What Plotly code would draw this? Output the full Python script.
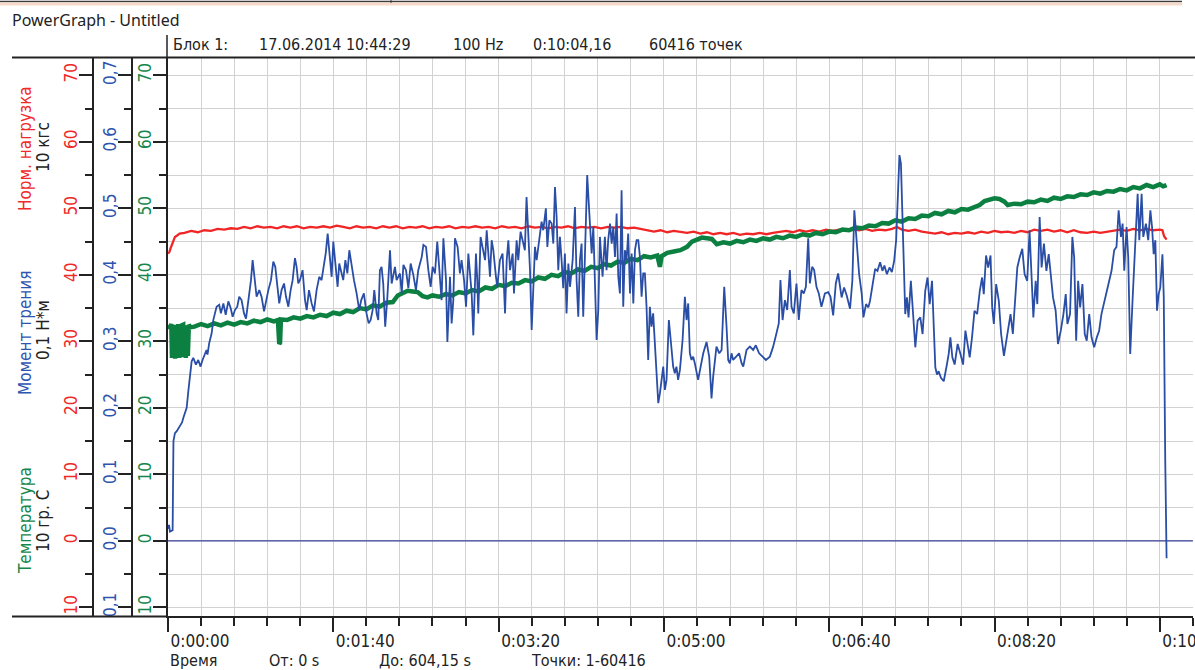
import plotly.graph_objects as go

W, H = 1195, 670
FONT = "DejaVu Sans Condensed, DejaVu Sans, sans-serif"
TITLE_FONT = "Noto Sans, Open Sans, sans-serif"

RED_LINE = "#f02525"
BLUE_LINE = "#2a4ea5"
GREEN_LINE = "#0c8040"
ZERO_LINE = "#3a3f9a"
RED_TXT = "#ee2a2a"
BLUE_TXT = "#2d55b0"
GREEN_TXT = "#16874a"
INK = "#222222"
GRID = "#d2d2d2"

# ---------------- data ----------------
# x axis: time in seconds
X_TICKS = [0, 100, 200, 300, 400, 500, 600]
X_TICK_TEXT = ["0:00:00", "0:01:40", "0:03:20", "0:05:00", "0:06:40", "0:08:20", "0:10:00"]

# y axes tick labels
Y_TICKS = [-10, 0, 10, 20, 30, 40, 50, 60, 70]
RED_TICK_TEXT = ["10", "0", "10", "20", "30", "40", "50", "60", "70"]
GREEN_TICK_TEXT = ["10", "0", "10", "20", "30", "40", "50", "60", "70"]
BLUE_TICKS = [-0.1, 0.0, 0.1, 0.2, 0.3, 0.4, 0.5, 0.6, 0.7]
BLUE_TICK_TEXT = ["0,1", "0,0", "0,1", "0,2", "0,3", "0,4", "0,5", "0,6", "0,7"]

# Норм. нагрузка (10 кгс): (time s, value)
RED_POINTS = [
    (0.0, 43.2), (0.8, 43.4), (1.6, 44.0), (2.4, 44.6), (3.2, 45.2), (4.2, 45.7), (5.5, 45.9), (7, 46.2),
    (10, 46.3), (14, 46.6), (18, 46.4), (22, 46.7), (26, 46.6), (30, 46.9), (34, 46.8), (38, 47.0),
    (42, 46.9), (46, 47.2), (50, 47.0), (54, 47.3), (58, 47.1), (62, 47.2), (66, 47.0), (70, 47.3),
    (74, 47.1), (78, 47.3), (82, 47.0), (86, 47.2), (90, 47.1), (94, 47.3), (98, 47.1), (102, 47.4),
    (106, 47.2), (110, 47.0), (114, 47.3), (118, 47.1), (122, 47.2), (126, 47.0), (130, 47.3), (134, 47.1),
    (138, 47.3), (142, 47.0), (146, 47.2), (150, 47.1), (154, 47.3), (158, 47.0), (162, 47.2), (166, 47.1),
    (170, 47.3), (174, 47.0), (178, 47.2), (182, 47.1), (186, 47.3), (190, 47.1), (194, 47.2), (198, 47.0),
    (202, 47.3), (206, 47.1), (210, 47.2), (214, 47.0), (218, 47.3), (222, 47.1), (226, 47.2), (230, 47.0),
    (234, 47.2), (238, 47.1), (242, 47.3), (246, 47.0), (250, 47.2), (254, 47.1), (258, 47.2), (262, 47.0),
    (266, 47.2), (270, 47.1), (274, 47.2), (278, 47.0), (282, 47.1), (286, 46.9), (290, 46.8), (294, 46.5),
    (298, 46.7), (302, 46.4), (306, 46.6), (310, 46.5), (314, 46.3), (318, 46.5), (322, 46.2), (326, 46.4),
    (330, 46.1), (334, 46.3), (338, 46.1), (342, 46.3), (346, 46.0), (350, 46.2), (354, 46.1), (358, 46.3),
    (362, 46.1), (366, 46.3), (370, 46.4), (374, 46.6), (378, 46.4), (382, 46.7), (386, 46.5), (390, 46.7),
    (394, 46.5), (398, 46.8), (402, 46.6), (406, 46.8), (410, 46.6), (414, 46.9), (418, 46.7), (422, 46.9),
    (426, 46.6), (430, 46.8), (434, 46.7), (438, 46.9), (441, 47.2), (444, 46.8), (448, 46.6), (452, 46.8),
    (456, 46.5), (460, 46.4), (464, 46.2), (468, 46.4), (472, 46.1), (476, 46.3), (480, 46.2), (484, 46.4),
    (488, 46.2), (492, 46.5), (496, 46.3), (500, 46.6), (504, 46.4), (508, 46.5), (512, 46.3), (516, 46.6),
    (520, 46.4), (524, 46.8), (528, 46.6), (532, 46.8), (536, 46.5), (540, 46.7), (544, 46.4), (548, 46.7),
    (552, 46.4), (556, 46.3), (560, 46.5), (564, 46.3), (568, 46.5), (572, 46.6), (576, 46.8), (580, 46.6),
    (584, 46.9), (588, 46.7), (592, 46.9), (596, 46.7), (600, 46.8), (601.6, 46.7), (602.6, 45.8), (604.1, 45.3),
]

# Температура (10 гр. С): (time s, value)
GREEN_POINTS = [
    (0.0, 32.4), (1.0, 32.0), (2.0, 32.6), (2.4, 27.5), (2.8, 32.4), (3.3, 27.6), (3.8, 32.5), (4.3, 27.4),
    (4.8, 32.2), (5.6, 27.8), (6.2, 32.6), (7.0, 27.5), (7.5, 32.3), (9.2, 32.5), (9.6, 27.6), (10.2, 32.4),
    (10.8, 27.5), (11.4, 32.3), (12.0, 27.8), (12.6, 32.5), (13.5, 32.1), (16, 32.2), (20, 32.6), (24, 32.3),
    (28, 32.7), (32, 32.4), (36, 32.8), (40, 32.5), (44, 32.9), (48, 32.7), (52, 33.1), (56, 32.9),
    (60, 33.3), (64, 33.0), (66.5, 33.2), (67.3, 29.6), (67.8, 29.8), (68.3, 33.3), (72, 33.2), (76, 33.6),
    (80, 33.4), (84, 33.8), (88, 33.6), (92, 34.0), (96, 33.8), (100, 34.3), (104, 34.1), (108, 34.6),
    (112, 34.4), (116, 35.0), (120, 34.8), (124, 35.4), (128, 35.2), (132, 35.8), (136, 35.9), (139, 36.9),
    (142, 37.3), (145, 37.6), (148, 37.5), (151, 37.4), (154, 36.8), (157, 36.6), (160, 36.9), (164, 36.7),
    (168, 37.1), (172, 36.9), (176, 37.4), (180, 37.2), (184, 37.7), (188, 37.5), (192, 38.1), (196, 37.9),
    (200, 38.5), (204, 38.3), (208, 38.8), (212, 38.7), (216, 39.2), (220, 39.0), (224, 39.6), (228, 39.4),
    (232, 40.0), (236, 39.8), (240, 40.4), (244, 40.2), (248, 40.8), (252, 40.6), (256, 41.2), (260, 41.0),
    (264, 41.6), (268, 41.4), (272, 42.0), (276, 41.8), (280, 42.4), (284, 42.2), (288, 42.8), (292, 42.6),
    (296, 42.9), (297.6, 41.2), (298.6, 42.8), (302, 43.3), (306, 43.5), (310, 43.7), (314, 44.2), (317, 45.0),
    (320, 45.3), (323, 45.6), (326, 45.5), (329, 45.4), (332, 44.6), (336, 44.9), (340, 44.7), (344, 45.1),
    (348, 44.9), (352, 45.3), (356, 45.1), (360, 45.5), (364, 45.3), (368, 45.7), (372, 45.5), (376, 45.9),
    (380, 45.7), (384, 46.1), (388, 45.9), (392, 46.3), (396, 46.1), (400, 46.5), (404, 46.4), (408, 46.8),
    (412, 46.7), (416, 47.1), (420, 47.0), (424, 47.4), (428, 47.3), (432, 47.8), (436, 47.7), (440, 48.2),
    (444, 48.0), (448, 48.5), (452, 48.4), (456, 48.9), (460, 48.8), (464, 49.3), (468, 49.1), (472, 49.6),
    (476, 49.4), (480, 49.9), (484, 49.8), (488, 50.2), (491, 50.5), (494, 51.1), (497, 51.3), (500, 51.5),
    (503, 51.4), (506, 51.0), (508, 50.5), (512, 50.7), (516, 50.6), (520, 51.0), (524, 50.9), (528, 51.3),
    (532, 51.1), (536, 51.6), (540, 51.4), (544, 51.8), (548, 51.7), (552, 52.1), (556, 52.0), (560, 52.4),
    (564, 52.2), (568, 52.6), (572, 52.5), (576, 52.9), (580, 52.7), (584, 53.2), (588, 53.0), (592, 53.5),
    (596, 53.2), (600, 53.6), (602, 53.3), (604.1, 53.5),
]

# Момент трения (0,1 Н*м): (time s, value)
BLUE_POINTS = [
    (0.0, 0.018), (0.6, 0.024), (1.2, 0.014), (2.2, 0.016), (2.8, 0.016), (3.3, 0.150), (4.2, 0.162), (5.3, 0.165),
    (6.5, 0.170), (7.5, 0.174), (8.5, 0.178), (9.3, 0.185), (10.3, 0.192), (11.3, 0.200), (12.3, 0.225), (13.3, 0.252),
    (14.3, 0.270), (15.3, 0.275), (16.9, 0.265), (18.3, 0.272), (19.7, 0.262), (20.9, 0.272), (22.3, 0.282), (23.3, 0.287),
    (23.9, 0.280), (24.9, 0.297), (26.4, 0.312), (27.4, 0.332), (28.4, 0.342),
    (29.4, 0.352), (31.0, 0.355), (32.0, 0.342), (33.5, 0.357), (34.9, 0.340), (36.5, 0.360), (37.9, 0.350), (39.1, 0.337),
    (40.5, 0.347), (41.9, 0.352), (43.1, 0.367), (44.5, 0.362), (46.0, 0.342), (47.2, 0.334), (48.2, 0.352), (49.2, 0.370),
    (50.2, 0.392), (51.2, 0.422), (52.2, 0.397), (53.6, 0.367), (55.2, 0.377), (56.6, 0.367), (58.1, 0.345), (59.3, 0.362),
    (60.7, 0.377), (62.3, 0.392), (63.7, 0.420), (64.9, 0.412), (66.1, 0.382), (67.3, 0.357), (68.7, 0.377), (70.2, 0.387),
    (71.4, 0.367), (72.8, 0.352), (74.2, 0.377), (75.4, 0.392), (76.8, 0.425), (77.8, 0.412), (78.8, 0.387), (79.8, 0.392),
    (81.4, 0.407), (82.9, 0.362), (83.9, 0.347), (85.3, 0.377), (86.9, 0.357), (88.3, 0.345), (89.9, 0.377), (91.5, 0.397),
    (92.9, 0.392), (93.9, 0.407), (95.4, 0.432), (96.6, 0.462), (98.0, 0.417), (99.0, 0.397), (100.0, 0.450), (101.6, 0.402),
    (102.6, 0.382), (103.6, 0.417), (105.0, 0.402), (106.0, 0.392), (107.3, 0.422), (108.5, 0.402), (109.7, 0.437), (111.1, 0.412),
    (112.5, 0.392), (114.1, 0.372), (115.7, 0.347), (116.9, 0.362), (118.5, 0.372), (120.1, 0.342), (121.4, 0.327), (122.6, 0.332),
    (123.8, 0.347), (124.8, 0.377), (126.2, 0.342), (127.2, 0.332), (128.2, 0.407), (129.2, 0.412), (130.2, 0.387), (131.4, 0.322),
    (132.6, 0.362), (134.3, 0.437),
    (135.3, 0.387), (137.3, 0.412), (138.3, 0.392), (140.3, 0.402), (141.4, 0.372), (142.4, 0.415), (144.0, 0.407), (145.4, 0.380),
    (146.8, 0.417), (148.4, 0.400), (150.0, 0.377), (151.4, 0.407), (153.5, 0.427), (154.5, 0.445), (156.1, 0.442), (157.5, 0.407),
    (158.9, 0.382), (160.1, 0.412), (161.5, 0.402), (162.9, 0.450), (164.1, 0.407), (165.5, 0.362), (166.6, 0.455), (168.2, 0.392),
    (169.0, 0.299), (170.6, 0.397), (171.6, 0.327), (172.6, 0.362), (173.6, 0.455), (175.2, 0.442), (176.6, 0.402), (177.6, 0.422),
    (179.1, 0.392), (180.3, 0.352), (181.7, 0.432), (182.7, 0.407), (183.7, 0.372), (184.7, 0.309), (186.3, 0.432), (187.1, 0.392),
    (187.7, 0.342), (189.1, 0.457), (190.3, 0.442), (191.8, 0.422), (192.8, 0.467), (193.8, 0.427), (194.8, 0.397), (195.8, 0.452),
    (196.8, 0.437), (198.4, 0.397), (199.2, 0.382), (200.8, 0.422), (202.4, 0.432), (203.9, 0.342), (204.9, 0.422), (205.9, 0.452),
    (206.9, 0.407), (208.5, 0.432), (209.3, 0.372), (210.9, 0.452), (211.9, 0.422), (213.3, 0.465), (214.5, 0.452), (215.9, 0.437),
    (216.9, 0.517), (217.9, 0.472), (219.0, 0.407), (220.0, 0.317), (221.0, 0.387), (222.0, 0.442), (223.0, 0.422), (224.6, 0.455),
    (226.0, 0.480), (227.0, 0.467), (228.6, 0.500), (229.5, 0.442), (230.7, 0.482), (232.1, 0.477), (233.1, 0.447), (234.1, 0.532),
    (235.1, 0.487), (236.1, 0.407), (237.1, 0.457), (238.1, 0.422), (239.1, 0.380), (240.1, 0.432), (241.1, 0.342), (242.2, 0.417),
    (243.2, 0.382), (244.8, 0.422), (246.2, 0.502), (247.2, 0.392), (248.2, 0.337), (249.2, 0.422), (250.2, 0.447), (251.2, 0.337),
    (252.2, 0.417), (253.6, 0.550), (254.9, 0.492), (256.3, 0.432), (257.3, 0.472), (258.3, 0.382), (259.3, 0.302), (260.3, 0.347),
    (261.3, 0.457), (262.9, 0.397), (264.3, 0.457), (265.3, 0.407), (266.3, 0.452), (267.4, 0.477), (268.4, 0.447), (269.4, 0.472),
    (270.4, 0.427), (271.4, 0.492), (272.4, 0.397), (273.4, 0.372), (274.4, 0.527), (275.4, 0.352), (276.4, 0.437), (277.4, 0.422),
    (278.4, 0.462), (279.5, 0.372), (280.5, 0.432), (281.5, 0.357), (282.5, 0.437), (283.5, 0.452), (284.5, 0.452), (285.5, 0.427),
    (286.5, 0.367), (287.5, 0.402), (288.5, 0.402),
    (289.5, 0.352), (290.5, 0.272), (291.5, 0.352), (292.5, 0.322), (293.5, 0.342), (294.5, 0.302), (295.5, 0.262), (296.6, 0.207),
    (297.6, 0.222), (298.6, 0.247), (299.6, 0.262), (300.6, 0.227), (301.6, 0.242), (303.0, 0.332), (304.2, 0.302), (305.6, 0.262),
    (306.6, 0.252), (307.6, 0.262), (308.6, 0.242), (309.7, 0.257), (311.3, 0.302), (312.7, 0.367), (313.7, 0.332), (314.7, 0.357),
    (315.7, 0.282), (316.7, 0.272), (317.7, 0.277), (318.7, 0.267), (320.7, 0.242), (322.2, 0.262), (323.8, 0.282), (325.8, 0.299),
    (327.4, 0.277), (328.8, 0.214), (329.8, 0.247), (331.8, 0.292), (333.5, 0.282), (334.9, 0.287), (336.5, 0.382), (337.9, 0.322),
    (338.9, 0.272), (339.9, 0.267), (340.9, 0.282), (341.9, 0.272), (343.9, 0.277), (345.5, 0.282), (347.0, 0.267), (348.0, 0.262),
    (350.0, 0.287), (352.0, 0.292), (354.0, 0.287), (355.6, 0.294), (357.6, 0.282), (359.7, 0.277), (361.7, 0.272), (364.1, 0.277),
    (366.1, 0.292), (368.1, 0.312), (369.5, 0.327), (370.5, 0.392), (371.8, 0.332), (373.2, 0.362), (374.6, 0.347), (376.2, 0.407),
    (377.2, 0.352), (378.6, 0.342), (380.2, 0.387), (381.6, 0.332), (383.2, 0.377), (384.6, 0.372), (385.9, 0.382), (387.3, 0.455),
    (388.3, 0.387), (389.7, 0.412), (390.9, 0.407), (392.3, 0.382), (393.7, 0.372), (395.3, 0.352), (397.4, 0.372), (399.4, 0.374),
    (400.8, 0.367), (402.4, 0.339), (404.0, 0.387), (405.4, 0.402),
    (407.5, 0.366), (409.0, 0.381), (410.6, 0.369), (412.6, 0.349), (414.0, 0.391), (415.2, 0.497), (416.7, 0.442), (418.1, 0.401),
    (419.7, 0.371), (420.7, 0.336), (422.3, 0.356), (423.7, 0.351), (424.7, 0.361), (426.4, 0.386), (427.8, 0.409), (429.2, 0.406),
    (430.8, 0.419), (432.2, 0.406), (433.4, 0.414), (434.9, 0.401), (436.5, 0.411), (437.9, 0.404), (439.3, 0.421), (440.5, 0.452),
    (441.5, 0.512), (442.5, 0.580), (443.4, 0.567), (444.2, 0.502), (445.0, 0.411), (446.0, 0.341), (447.0, 0.366), (448.0, 0.336),
    (449.4, 0.391), (450.6, 0.351), (452.1, 0.291), (453.5, 0.331), (455.1, 0.336), (456.5, 0.311), (458.1, 0.376), (459.5, 0.396),
    (460.8, 0.356), (462.2, 0.391), (463.2, 0.321), (464.2, 0.261), (465.2, 0.250), (466.2, 0.255), (467.6, 0.245), (469.3, 0.240),
    (470.9, 0.261), (472.3, 0.281), (473.3, 0.306), (474.5, 0.276), (475.9, 0.265), (477.7, 0.296), (479.4, 0.281), (481.0, 0.265),
    (482.4, 0.316), (483.8, 0.291), (485.0, 0.276), (486.4, 0.306), (487.9, 0.346), (489.5, 0.341), (491.1, 0.376), (492.5, 0.396),
    (493.5, 0.371), (494.9, 0.429), (496.2, 0.411), (497.6, 0.429), (498.6, 0.351), (499.6, 0.326), (501.0, 0.386), (502.6, 0.361),
    (504.0, 0.311), (505.7, 0.278), (507.3, 0.301), (508.7, 0.321), (509.7, 0.341), (511.1, 0.311), (512.7, 0.371), (513.8, 0.411),
    (515.2, 0.426), (516.8, 0.439), (518.2, 0.401), (519.8, 0.391), (521.2, 0.467), (522.3, 0.411), (523.5, 0.336), (524.9, 0.391),
    (525.9, 0.356), (527.3, 0.487), (528.5, 0.411), (529.9, 0.447), (531.4, 0.406), (532.8, 0.431), (534.0, 0.401), (535.4, 0.366),
    (537.0, 0.346), (538.4, 0.296), (540.1, 0.316), (541.7, 0.341), (543.1, 0.371), (544.1, 0.326), (545.7, 0.341), (547.1, 0.457),
    (548.2, 0.426), (549.4, 0.301), (550.6, 0.391), (551.8, 0.351), (553.2, 0.386), (554.6, 0.311), (555.8, 0.301), (557.3, 0.341),
    (558.7, 0.306), (560.3, 0.291), (561.9, 0.306), (563.3, 0.316), (564.7, 0.341), (566.4, 0.361), (568.0, 0.376), (569.4, 0.391),
    (570.8, 0.406), (572.4, 0.437), (573.8, 0.442), (575.1, 0.497), (576.5, 0.457), (577.5, 0.477), (578.5, 0.406), (579.9, 0.472),
    (580.9, 0.426), (582.1, 0.281), (583.5, 0.361), (585.0, 0.442), (586.6, 0.522), (587.6, 0.452), (589.0, 0.522), (590.0, 0.457),
    (591.6, 0.477), (593.0, 0.452), (594.3, 0.497), (595.3, 0.472), (596.3, 0.431), (597.3, 0.452), (598.3, 0.346), (599.3, 0.371),
    (600.3, 0.381), (601.6, 0.431), (602.4, 0.366), (603.3, 0.120), (604.1, -0.026),
]

# zero channel (thin line at 0)
ZERO_POINTS = [(0.0, 0.0), (620.0, 0.0)]


def unzip(points):
    return [p[0] for p in points], [p[1] for p in points]


red_t, red_v = unzip(RED_POINTS)
green_t, green_v = unzip(GREEN_POINTS)
blue_t, blue_v = unzip(BLUE_POINTS)
zero_t, zero_v = unzip(ZERO_POINTS)

# ---------------- figure ----------------
fig = go.Figure()
fig.add_trace(go.Scatter(x=red_t, y=red_v, mode="lines", yaxis="y",
                         line=dict(color=RED_LINE, width=2.3), name="Норм. нагрузка"))
fig.add_trace(go.Scatter(x=green_t, y=green_v, mode="lines", yaxis="y2",
                         line=dict(color=GREEN_LINE, width=4.5), name="Температура"))
fig.add_trace(go.Scatter(x=zero_t, y=zero_v, mode="lines", yaxis="y3",
                         line=dict(color=ZERO_LINE, width=1.2), name="0"))
fig.add_trace(go.Scatter(x=blue_t, y=blue_v, mode="lines", yaxis="y3",
                         line=dict(color=BLUE_LINE, width=1.8), name="Момент трения"))

X0, X1 = 168, 1193     # plot area left/right (px)
Y0, Y1 = 58, 616       # plot area top/bottom (px)
Y_RANGE = [-11.3, 72.6]

tick_font = lambda c: dict(family=FONT, size=17, color=c)

common_y = dict(
    domain=[(H - Y1) / H, (H - Y0) / H],
    ticks="outside", ticklen=13, tickwidth=2, tickcolor=INK,
    showline=True, linecolor=INK, linewidth=1.5,
    tickangle=-90, zeroline=False, automargin=False, fixedrange=True,
    tickmode="array", ticklabelstandoff=-5,
)
minor_y = dict(ticks="outside", ticklen=7, tickwidth=2, tickcolor=INK)

fig.update_layout(
    width=W, height=H,
    margin=dict(l=0, r=0, t=0, b=0),
    paper_bgcolor="white", plot_bgcolor="white",
    showlegend=False,
    xaxis=dict(
        domain=[X0 / W, X1 / W], range=[0, (X1 - X0) / 1.653],
        tickmode="array", tickvals=X_TICKS, ticktext=X_TICK_TEXT,
        ticks="outside", ticklen=14, tickwidth=2, tickcolor=INK,
        showline=True, linecolor=INK, linewidth=2,
        showgrid=True, gridcolor=GRID, gridwidth=1,
        minor=dict(tickmode="linear", tick0=0, dtick=20, ticks="outside", ticklen=8,
                   tickwidth=2, tickcolor=INK, showgrid=True, gridcolor=GRID, gridwidth=1),
        tickfont=tick_font(INK), ticklabelshift=32, ticklabelstandoff=-5,
        ticklabeloverflow="allow",
        zeroline=False, automargin=False, fixedrange=True,
    ),
    yaxis=dict(
        common_y, range=Y_RANGE, tickvals=Y_TICKS, ticktext=RED_TICK_TEXT,
        tickfont=tick_font(RED_TXT), anchor="free", position=93 / W,
        showgrid=True, gridcolor=GRID, gridwidth=1,
        minor=dict(minor_y, tickmode="linear", tick0=0, dtick=5, showgrid=True, gridcolor=GRID, gridwidth=1),
    ),
    yaxis2=dict(
        common_y, range=Y_RANGE, tickvals=Y_TICKS, ticktext=GREEN_TICK_TEXT,
        tickfont=tick_font(GREEN_TXT), overlaying="y", anchor="x", side="left",
        showgrid=False, minor=dict(minor_y, tickmode="linear", tick0=0, dtick=5, showgrid=False),
    ),
    yaxis3=dict(
        common_y, range=[Y_RANGE[0] / 100, Y_RANGE[1] / 100], tickvals=BLUE_TICKS, ticktext=BLUE_TICK_TEXT,
        tickfont=tick_font(BLUE_TXT), overlaying="y", anchor="free", position=131.5 / W,
        showgrid=False, minor=dict(minor_y, tickmode="linear", tick0=0, dtick=0.05, showgrid=False),
    ),
)


def px(x):
    return x / W


def py(y):
    return 1 - y / H


shapes = [
    # window edge at very top
    dict(type="line", xref="paper", yref="paper", x0=0, x1=px(1182), y0=py(1.5), y1=py(1.5),
         line=dict(color="#3b3b3b", width=1.5)),
    dict(type="line", xref="paper", yref="paper", x0=0, x1=px(1182), y0=py(4), y1=py(4),
         line=dict(color="#f7d9c9", width=3)),
    dict(type="line", xref="paper", yref="paper", x0=px(391), x1=px(391), y0=py(0), y1=py(3),
         line=dict(color="#3b3b3b", width=1)),
    # top border line of chart block
    dict(type="line", xref="paper", yref="paper", x0=px(12), x1=1, y0=py(57.5), y1=py(57.5),
         line=dict(color=INK, width=2)),
    # header separator
    dict(type="line", xref="paper", yref="paper", x0=px(167), x1=px(167), y0=py(35), y1=py(57.5),
         line=dict(color=INK, width=1.5)),
    # bottom line under the axes column
    dict(type="line", xref="paper", yref="paper", x0=px(12), x1=px(168), y0=py(616.5), y1=py(616.5),
         line=dict(color=INK, width=2)),
]

ann = []


def text(x, y, s, color=INK, size=16, family=FONT, angle=0, xanchor="left"):
    ann.append(dict(xref="paper", yref="paper", x=px(x), y=py(y), text=s, showarrow=False,
                    xanchor=xanchor, yanchor="middle", textangle=angle,
                    font=dict(family=family, size=size, color=color)))


text(10, 20, "PowerGraph - Untitled", size=16, family=TITLE_FONT)
text(171, 45, "Блок 1:")
text(257, 45, "17.06.2014 10:44:29")
text(451, 45, "100 Hz")
text(531, 45, "0:10:04,16")
text(647, 45, "60416 точек")

text(25, 149, "Норм. нагрузка", color=RED_TXT, size=17, angle=-90, xanchor="center")
text(43, 147, "10 кгс", size=17, angle=-90, xanchor="center")
text(25, 333, "Момент трения", color=BLUE_TXT, size=17, angle=-90, xanchor="center")
text(43, 330, "0,1 Н*м", size=17, angle=-90, xanchor="center")
text(25, 521, "Температура", color=GREEN_TXT, size=17, angle=-90, xanchor="center")
text(43, 521, "10 гр. С", size=17, angle=-90, xanchor="center")

text(168, 660, "Время")
text(267, 660, "От: 0 s")
text(377, 660, "До: 604,15 s")
text(529, 660, "Точки: 1-60416")

fig.update_layout(shapes=shapes, annotations=ann)

fig.write_html("out.html", config={"displayModeBar": False},
               post_script="document.body.style.margin='0px';")
